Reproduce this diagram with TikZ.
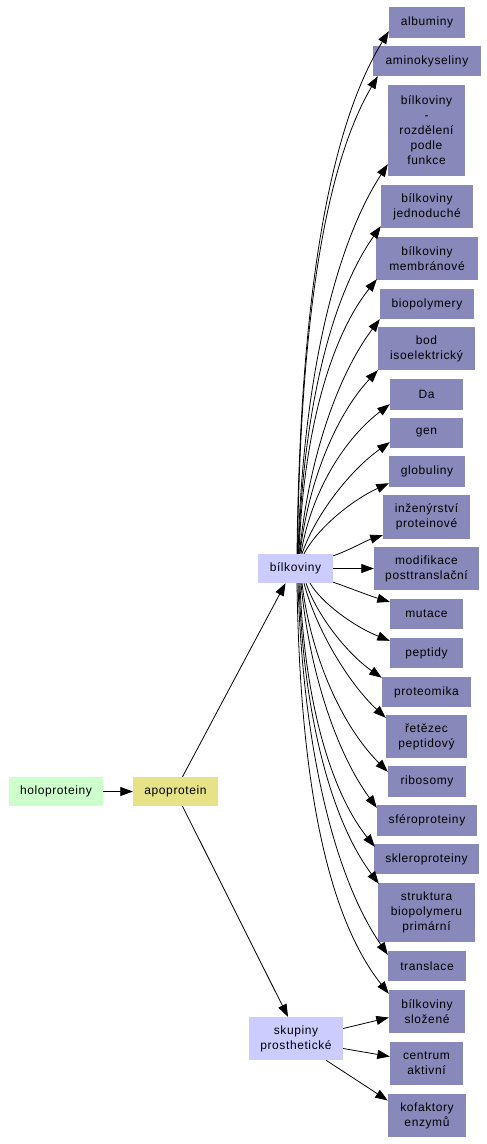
\documentclass[tikz,border=0pt]{standalone}
\usepackage{fontspec}
\setmainfont{Liberation Sans}[LetterSpace=5]
\usetikzlibrary{arrows.meta,calc}
\definecolor{rnode}{RGB}{136,136,187}
\definecolor{lav}{RGB}{204,204,255}
\definecolor{mint}{RGB}{204,255,204}
\definecolor{ylw}{RGB}{230,226,136}
\tikzset{
  box/.style={inner sep=0pt, align=center, font=\fontsize{12}{15}\selectfont, text=black},
  rbox/.style={box, fill=rnode},
  edge/.style={line width=0.8pt, -{Triangle[length=12.5pt,width=9pt]}},
}
\begin{document}
\begin{tikzpicture}[x=1pt,y=-1pt]
\useasboundingbox (0,0) rectangle (487,1144);
% right column
\node[rbox, minimum width=76pt, minimum height=31pt] (alb) at (427,22.5) {albuminy};
\node[rbox, minimum width=108pt, minimum height=30pt] (amk) at (427,61) {aminokyseliny};
\node[rbox, minimum width=77pt, minimum height=91pt] (roz) at (426.5,130.5) {bílkoviny\\-\\rozdělení\\podle\\funkce};
\node[rbox, minimum width=92pt, minimum height=43pt] (jed) at (427,206.5) {bílkoviny\\jednoduché};
\node[rbox, minimum width=102pt, minimum height=43pt] (mem) at (427,258.5) {bílkoviny\\membránové};
\node[rbox, minimum width=94pt, minimum height=30pt] (bio) at (427,304) {biopolymery};
\node[rbox, minimum width=97pt, minimum height=43pt] (bod) at (426.5,348.5) {bod\\isoelektrický};
\node[rbox, minimum width=73pt, minimum height=31pt] (da) at (426.5,394.5) {Da};
\node[rbox, minimum width=73pt, minimum height=30pt] (gen) at (426.5,433) {gen};
\node[rbox, minimum width=76pt, minimum height=31pt] (glo) at (427,471.5) {globuliny};
\node[rbox, minimum width=87pt, minimum height=44pt] (inz) at (426.5,517) {inženýrství\\proteinové};
\node[rbox, minimum width=105pt, minimum height=43pt] (mod) at (426.5,568.5) {modifikace\\posttranslační};
\node[rbox, minimum width=73pt, minimum height=30pt] (mut) at (426.5,614) {mutace};
\node[rbox, minimum width=73pt, minimum height=30pt] (pep) at (426.5,653) {peptidy};
\node[rbox, minimum width=89pt, minimum height=30pt] (prot) at (426.5,692) {proteomika};
\node[rbox, minimum width=81pt, minimum height=43pt] (ret) at (426.5,736.5) {řetězec\\peptidový};
\node[rbox, minimum width=78pt, minimum height=31pt] (rib) at (427,781.5) {ribosomy};
\node[rbox, minimum width=100pt, minimum height=31pt] (sfe) at (427,820.5) {sféroproteiny};
\node[rbox, minimum width=105pt, minimum height=30pt] (skl) at (426.5,859) {skleroproteiny};
\node[rbox, minimum width=97pt, minimum height=59pt] (str) at (426.5,912.5) {struktura\\biopolymeru\\primární};
\node[rbox, minimum width=78pt, minimum height=30pt] (tra) at (427,966) {translace};
\node[rbox, minimum width=76pt, minimum height=43pt] (slo) at (427,1011.5) {bílkoviny\\složené};
\node[rbox, minimum width=73pt, minimum height=43pt] (cen) at (426.5,1063.5) {centrum\\aktivní};
\node[rbox, minimum width=78pt, minimum height=43pt] (kof) at (427,1115.5) {kofaktory\\enzymů};
% left nodes
\node[box, fill=mint, minimum width=94pt, minimum height=29pt] (holo) at (56,791.5) {holoproteiny};
\node[box, fill=ylw, minimum width=85pt, minimum height=29pt] (apo) at (175.5,791.5) {apoprotein};
\node[box, fill=lav, minimum width=75pt, minimum height=29pt] (B) at (295.5,568.5) {bílkoviny};
\node[box, fill=lav, minimum width=94pt, minimum height=43pt] (sk) at (296,1038.5) {skupiny\\prosthetické};
% left edges
\draw[edge] (holo.east) -- (apo.west);
\draw[edge] ($(apo.north)+(7,0)$) -- ($(B.south)+(-10,0)$);
\draw[edge] ($(apo.south)+(7,0)$) -- ($(sk.north)+(-8,0)$);
% top fan
\draw[edge] ($(B.north)+(1.5,0)$) .. controls (299.8,318.6) and (324.6,135.6) .. ($(alb.south west)+(0,-7)$);
\draw[edge] ($(B.north)+(2,0)$) .. controls (299.9,338.9) and (321.6,171.6) .. ($(amk.south west)+(5,0)$);
\draw[edge] ($(B.north)+(2.5,0)$) .. controls (302.5,390.2) and (332.2,249.8) .. ($(roz.south west)+(0,-12)$);
\draw[edge] ($(B.north)+(3,0)$) .. controls (302.6,416.2) and (329.8,298.2) .. ($(jed.south west)+(0,-2)$);
\draw[edge] ($(B.north)+(3.5,0)$) .. controls (302.9,438.5) and (328.6,339.5) .. ($(mem.south west)+(1,-1)$);
\draw[edge] ($(B.north)+(4,0)$) .. controls (307.6,464.7) and (335.7,377.8) .. (bio.south west);
\draw[edge] ($(B.north)+(4.5,0)$) .. controls (307.8,484.1) and (335.1,416) .. (bod.south west);
\draw[edge] ($(B.north)+(5.5,0)$) .. controls (309.9,497) and (341,441.5) .. ($(da.south west)+(0,-6)$);
\draw[edge] ($(B.north)+(6.5,0)$) .. controls (315.2,514.8) and (350.4,470) .. ($(gen.south west)+(0,-6)$);
\draw[edge] ($(B.north)+(8.5,0)$) .. controls (316.8,529.1) and (350.7,500.8) .. ($(glo.south west)+(0,-4)$);
% side
\draw[edge] ($(B.north east)+(0,2)$) .. controls (350,550) and (365,541) .. ($(inz.south west)+(0,-4)$);
\draw[edge] (B.east) -- (mod.west);
\draw[edge] ($(B.south east)+(0,-1)$) .. controls (350,588) and (370,596) .. ($(mut.north west)+(0,3)$);
% bottom fan
\draw[edge] ($(B.south)+(14.5,0)$) .. controls (322,603.3) and (354,626.5) .. ($(pep.north west)+(0,3)$);
\draw[edge] ($(B.south)+(10.5,0)$) .. controls (317.4,616.3) and (347.8,654.2) .. ($(prot.north west)+(0,1)$);
\draw[edge] ($(B.south)+(8.5,0)$) .. controls (316.4,630.3) and (349.4,684.2) .. ($(ret.north west)+(0,3)$);
\draw[edge] ($(B.south)+(6.5,0)$) .. controls (310.6,654.8) and (340.7,724.7) .. ($(rib.north west)+(0,6)$);
\draw[edge] ($(B.south)+(5.5,0)$) .. controls (308.7,668.5) and (335.6,751.7) .. ($(sfe.north west)+(0,3)$);
\draw[edge] ($(B.south)+(4.5,0)$) .. controls (303.8,693.9) and (328.5,788.9) .. ($(skl.north west)+(1,3)$);
\draw[edge] ($(B.south)+(3.5,0)$) .. controls (303,709.4) and (329.4,817.8) .. ($(str.north west)+(1,1)$);
\draw[edge] ($(B.south)+(2.5,0)$) .. controls (302.5,739.2) and (331.8,873.2) .. ($(tra.north west)+(0,4)$);
\draw[edge] ($(B.south)+(1.5,0)$) .. controls (299.7,768) and (323.7,911.8) .. ($(slo.north west)+(0,4)$);
% skupiny edges
\draw[edge] ($(sk.east)+(0,-10)$) -- ($(slo.west)+(0,6)$);
\draw[edge] ($(sk.east)+(0,10)$) -- ($(cen.west)+(0,-7)$);
\draw[edge] ($(sk.south)+(30,0)$) -- ($(kof.west)+(0,-15)$);
\end{tikzpicture}
\end{document}
